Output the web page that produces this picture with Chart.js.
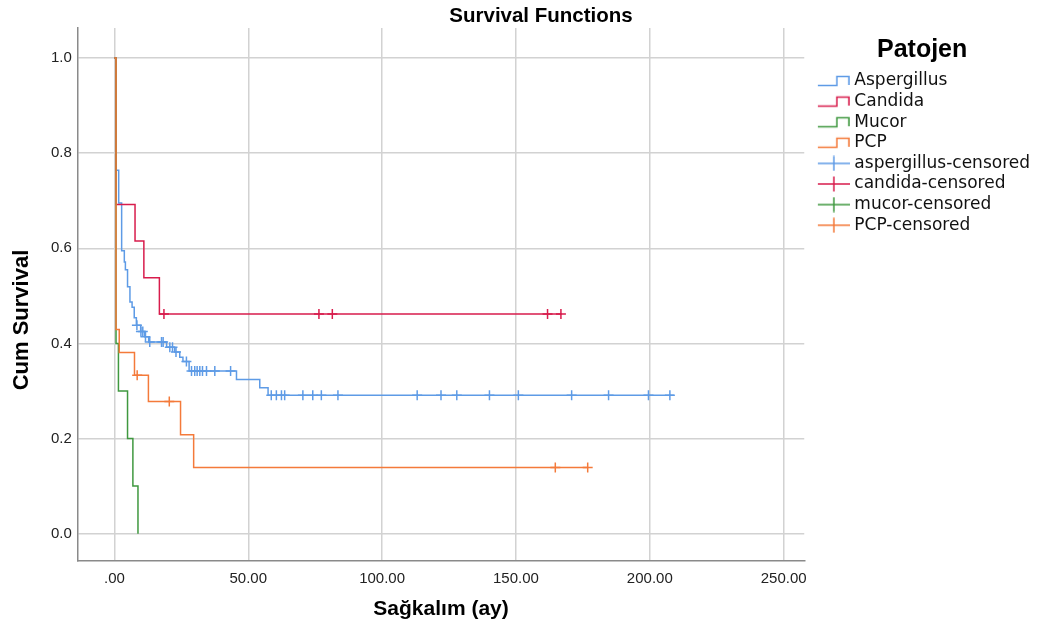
<!DOCTYPE html>
<html>
<head>
<meta charset="utf-8">
<script src="https://cdn.jsdelivr.net/npm/chart.js@4.4.1/dist/chart.umd.min.js"></script>
<style>
html, body { margin: 0; padding: 0; background: #fff; }
</style>
</head>
<body>
<canvas id="myChart" width="1040" height="632"></canvas>
<script>
// Kaplan-Meier steps (time in months, cumulative survival)
var asperT = [0, 0.6, 1.6, 2.7, 3.7, 4.1, 4.9, 5.8, 6.6, 7.4, 8.2, 9.8, 11.3, 12.8, 19.5, 22.5, 24.4, 25.6, 27.9, 45.6, 54.3, 57.4, 209];
var asperS = [1.0, 0.764, 0.695, 0.595, 0.571, 0.555, 0.519, 0.487, 0.476, 0.454, 0.438, 0.425, 0.414, 0.403, 0.392, 0.382, 0.371, 0.362, 0.342, 0.324, 0.307, 0.291, 0.291];

var candidaT = [0, 0.6, 7.7, 11.0, 16.8, 167];
var candidaS = [1.0, 0.692, 0.615, 0.538, 0.462, 0.462];

var mucorT = [0, 0.6, 1.5, 4.9, 6.9, 8.8];
var mucorS = [1.0, 0.4, 0.3, 0.2, 0.1, 0.0];

var pcpT = [0, 0.6, 1.8, 7.5, 12.7, 24.7, 29.6, 177];
var pcpS = [1.0, 0.429, 0.381, 0.333, 0.278, 0.208, 0.139, 0.139];

// censored cases
var asperCensT = [8.4, 9.9, 10.6, 11.6, 13.2, 17.6, 18.2, 20.7, 21.7, 23.0, 26.9, 28.8, 30.0, 30.9, 31.9, 32.9, 34.4, 37.5, 43.4, 58.6, 60.5, 62.4, 63.6, 70.4, 74.1, 77.3, 83.5, 113.1, 122.0, 127.9, 140.1, 150.9, 170.8, 184.6, 199.5, 207.5];
var asperCensS = [0.438, 0.425, 0.425, 0.414, 0.403, 0.403, 0.403, 0.392, 0.392, 0.382, 0.362, 0.342, 0.342, 0.342, 0.342, 0.342, 0.342, 0.342, 0.342, 0.291, 0.291, 0.291, 0.291, 0.291, 0.291, 0.291, 0.291, 0.291, 0.291, 0.291, 0.291, 0.291, 0.291, 0.291, 0.291, 0.291];
var candidaCensT = [18.5, 76.4, 81.4, 161.8, 166.8];
var candidaCensS = [0.462, 0.462, 0.462, 0.462, 0.462];
var mucorCensT = [];
var mucorCensS = [];
var pcpCensT = [8.5, 20.5, 164.7, 176.8];
var pcpCensS = [0.333, 0.278, 0.139, 0.139];

var xTicks = [0, 50, 100, 150, 200, 250];
var yTicks = [0, 0.2, 0.4, 0.6, 0.8, 1.0];

var groups = ['Aspergillus', 'Candida', 'Mucor', 'PCP'];
var censLabels = ['aspergillus-censored', 'candida-censored', 'mucor-censored', 'PCP-censored'];
var colors = ['#5e9be6', '#d81c4c', '#3f983f', '#f47a3a'];

function pts(t, s) {
    return t.map(function (v, i) { return { x: v, y: s[i] }; });
}

// little legend glyphs like SPSS draws them
function stepGlyph(color) {
    var c = document.createElement('canvas');
    c.width = 46; c.height = 16;
    var g = c.getContext('2d');
    g.strokeStyle = color;
    g.lineWidth = 1.5;
    g.beginPath();
    g.moveTo(14, 12.5); g.lineTo(33, 12.5); g.lineTo(33, 3.5); g.lineTo(45, 3.5); g.lineTo(45, 12);
    g.stroke();
    return c;
}
function crossGlyph(color) {
    var c = document.createElement('canvas');
    c.width = 46; c.height = 16;
    var g = c.getContext('2d');
    g.strokeStyle = color;
    g.lineWidth = 1.5;
    g.beginPath();
    g.moveTo(14, 8); g.lineTo(46, 8);
    g.moveTo(30, 0.5); g.lineTo(30, 15.5);
    g.stroke();
    return c;
}

var curves = [pts(asperT, asperS), pts(candidaT, candidaS), pts(mucorT, mucorS), pts(pcpT, pcpS)];
var cens = [pts(asperCensT, asperCensS), pts(candidaCensT, candidaCensS), pts(mucorCensT, mucorCensS), pts(pcpCensT, pcpCensS)];

var datasets = [];
groups.forEach(function (name, i) {
    datasets.push({
        label: name,
        data: curves[i],
        borderColor: colors[i],
        borderWidth: 1.5,
        stepped: 'before',
        pointRadius: 0,
        fill: false,
        order: 4 - i
    });
});
censLabels.forEach(function (name, i) {
    datasets.push({
        label: name,
        data: cens[i],
        showLine: false,
        pointStyle: 'cross',
        pointRadius: 5,
        pointBorderWidth: 1.5,
        pointBorderColor: colors[i],
        borderColor: colors[i],
        order: 0
    });
});

// chart title and y title sit off-centre in SPSS output, so draw them here
var titleText = {
    id: 'titleText',
    afterDraw: function (chart) {
        var c = chart.ctx;
        c.save();
        c.fillStyle = '#000';
        c.textAlign = 'center';
        c.textBaseline = 'middle';
        c.font = 'bold 20.5px "Liberation Sans"';
        c.fillText('Survival Functions', 541, 16);
        c.translate(22, 320);
        c.rotate(-Math.PI / 2);
        c.font = 'bold 22px "Liberation Sans"';
        c.fillText('Cum Survival', 0, 0);
        c.restore();
    }
};

const ctx = document.getElementById('myChart');

new Chart(ctx, {
    type: 'line',
    data: { datasets: datasets },
    plugins: [titleText],
    options: {
        responsive: false,
        animation: false,
        layout: { padding: { top: 28, bottom: 10, right: 0, left: 45 } },
        plugins: {
            legend: {
                position: 'right',
                align: 'start',
                title: {
                    display: true,
                    text: 'Patojen',
                    color: '#000',
                    font: { family: 'Liberation Sans', size: 25, weight: 'bold' },
                    padding: { top: 9.8, bottom: 1.1 }
                },
                labels: {
                    usePointStyle: true,
                    pointStyleWidth: 38,
                    padding: 3.6,
                    color: '#111',
                    font: { family: 'DejaVu Sans', size: 17 },
                    generateLabels: function () {
                        var items = [];
                        groups.forEach(function (name, i) {
                            items.push({ text: name, pointStyle: stepGlyph(colors[i]), datasetIndex: i, hidden: false, lineWidth: 0, fontColor: '#111' });
                        });
                        censLabels.forEach(function (name, i) {
                            items.push({ text: name, pointStyle: crossGlyph(colors[i]), datasetIndex: 4 + i, hidden: false, lineWidth: 0, fontColor: '#111' });
                        });
                        return items;
                    }
                }
            },
            tooltip: { enabled: false }
        },
        scales: {
            x: {
                type: 'linear',
                min: -13.66,
                max: 257.7,
                afterBuildTicks: function (axis) {
                    axis.ticks = xTicks.map(function (v) { return { value: v }; });
                },
                ticks: {
                    padding: 9,
                    color: '#222',
                    font: { family: 'Liberation Sans', size: 15 },
                    callback: function (v) { return v === 0 ? '.00' : v.toFixed(2); }
                },
                grid: { color: '#d2d2d2', lineWidth: 1.5, drawTicks: false },
                border: { display: true, color: '#8a8a8a', width: 1.5 },
                title: {
                    display: true,
                    text: 'Sağkalım (ay)',
                    color: '#000',
                    font: { family: 'Liberation Sans', size: 21, weight: 'bold' },
                    padding: { top: 0, bottom: 0 }
                }
            },
            y: {
                type: 'linear',
                min: -0.057,
                max: 1.063,
                afterBuildTicks: function (axis) {
                    axis.ticks = yTicks.map(function (v) { return { value: v }; });
                },
                ticks: {
                    padding: 6,
                    color: '#222',
                    font: { family: 'Liberation Sans', size: 15 },
                    callback: function (v) { return v.toFixed(1); }
                },
                grid: { color: '#d2d2d2', lineWidth: 1.5, drawTicks: false },
                border: { display: true, color: '#8a8a8a', width: 1.5 }
            }
        }
    }
});
</script>
</body>
</html>
